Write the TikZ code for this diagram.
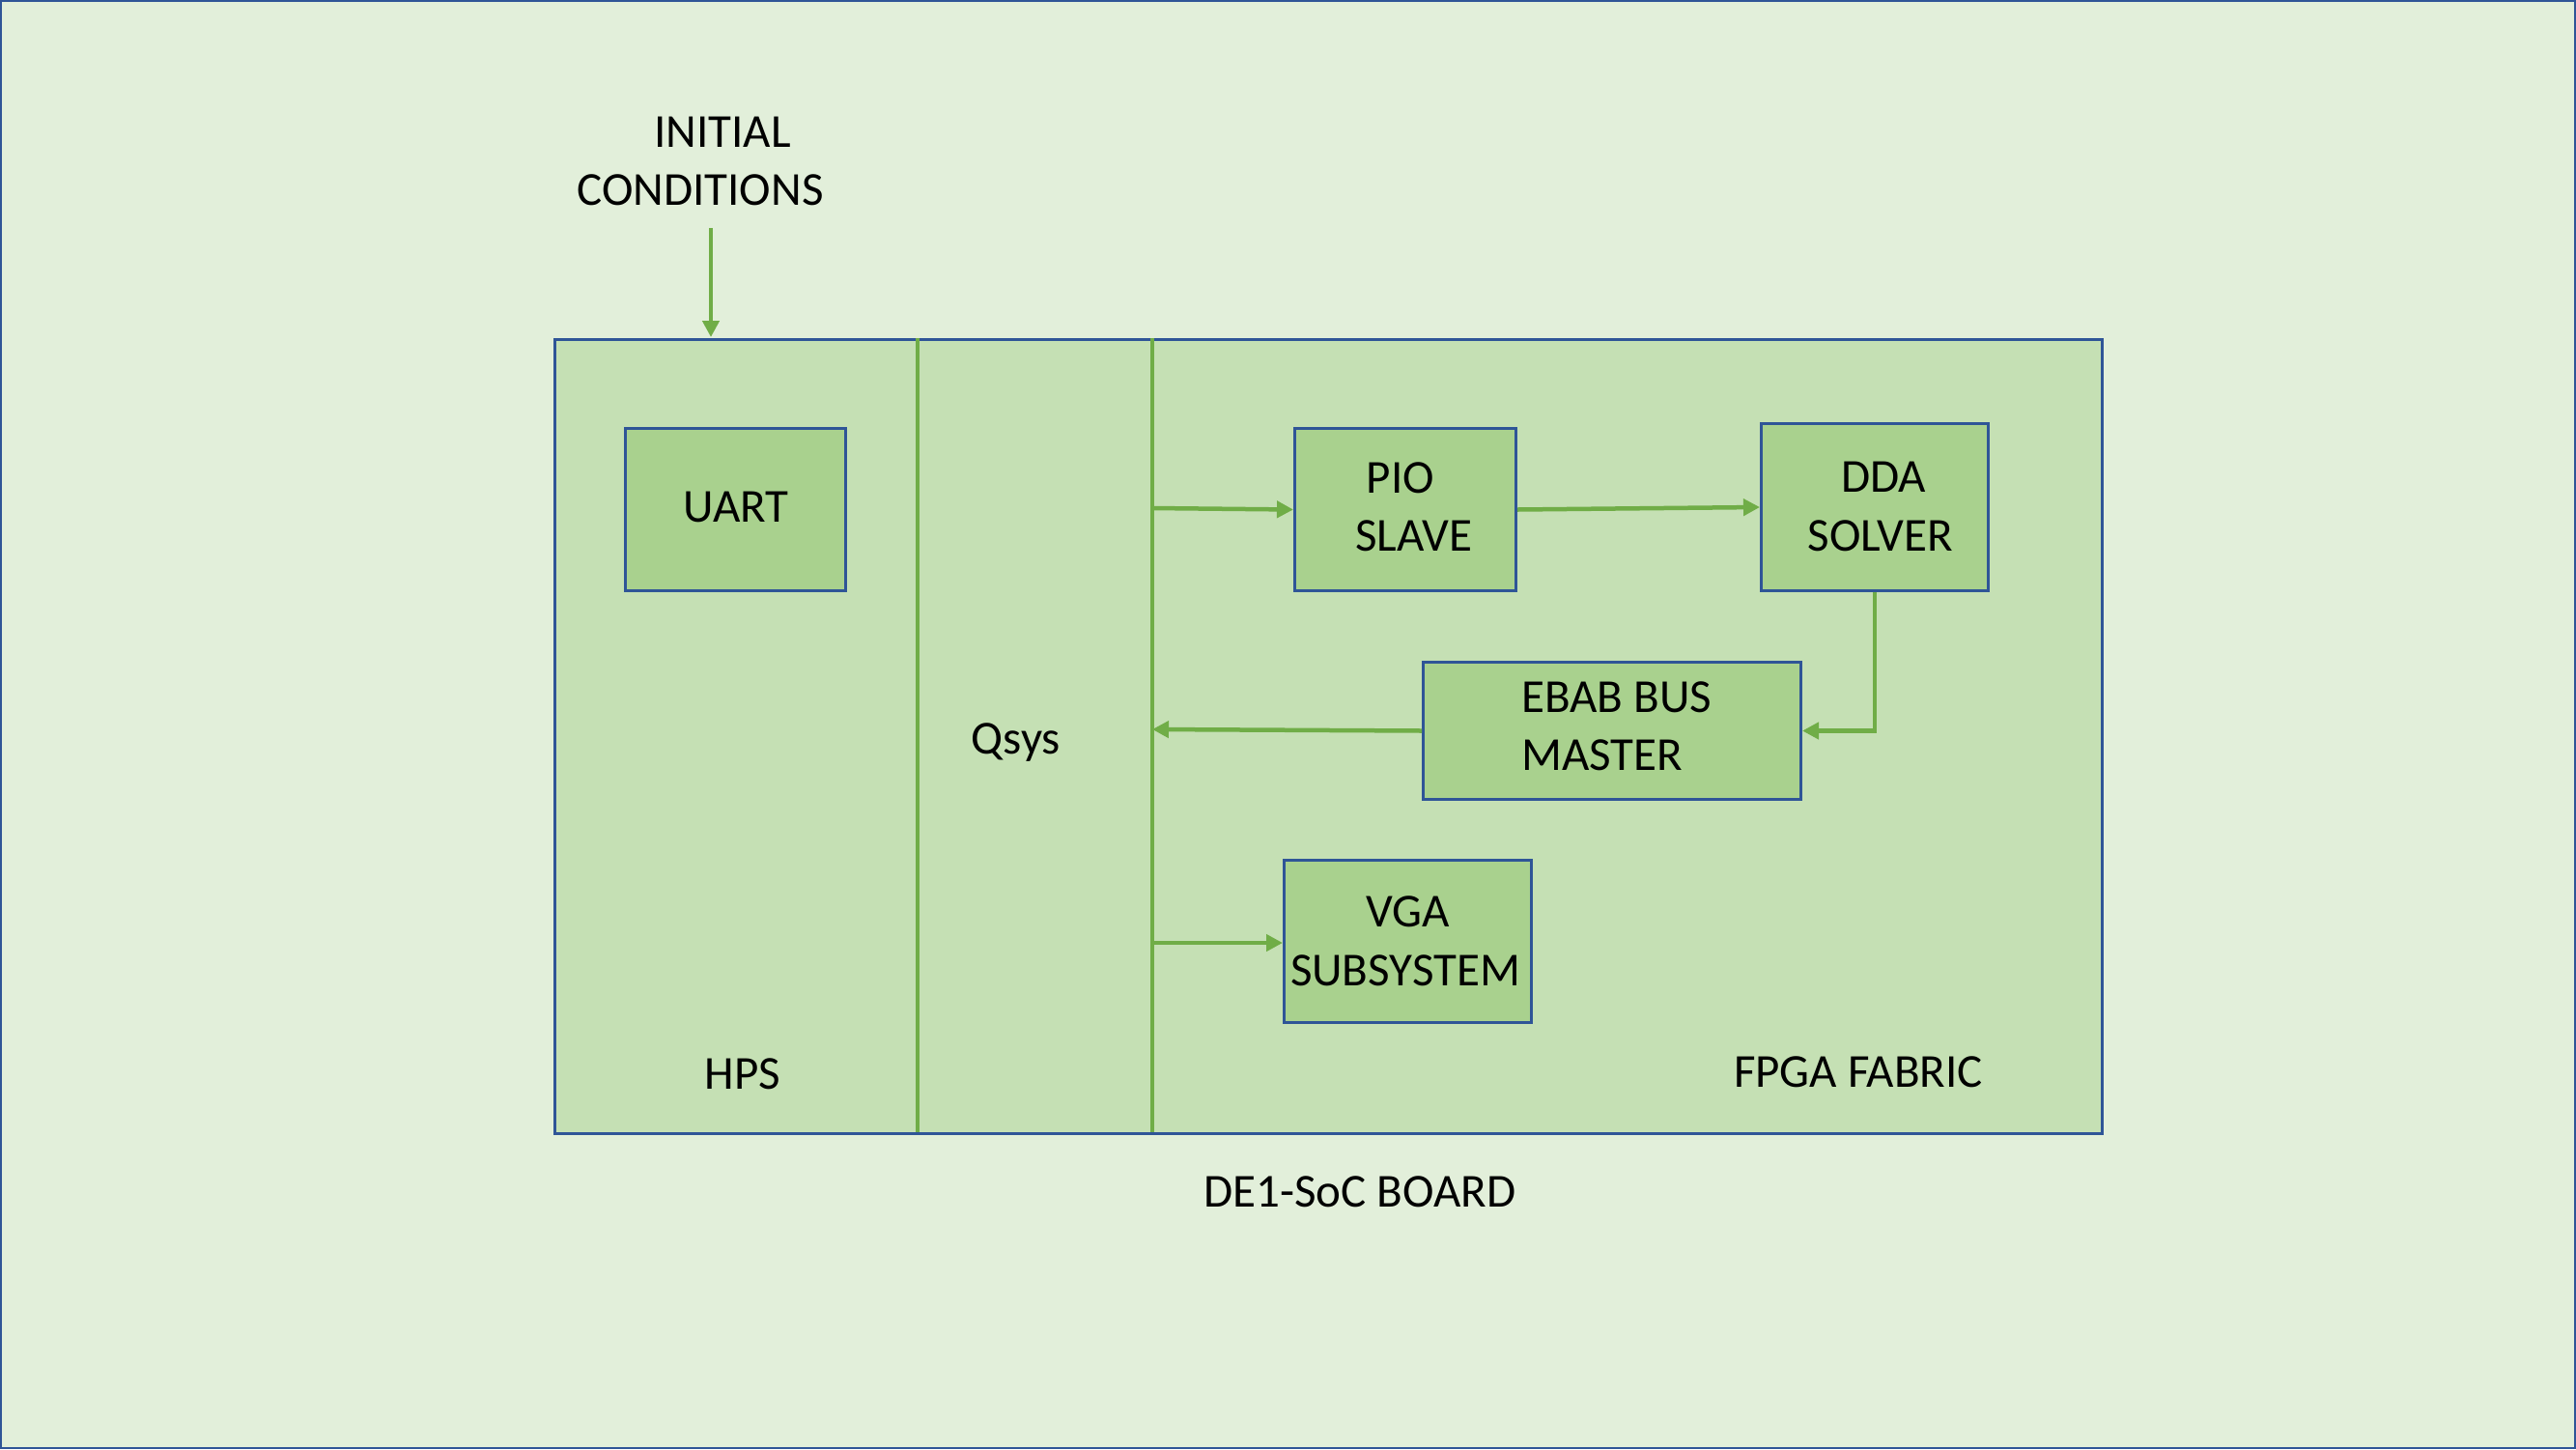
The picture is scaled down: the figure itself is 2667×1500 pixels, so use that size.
\documentclass[tikz,border=0pt]{standalone}
\usepackage{fontspec}
\setmainfont{Carlito}
\usetikzlibrary{arrows.meta}
\definecolor{bgc}{HTML}{E2EFDA}
\definecolor{mainc}{HTML}{C5E0B4}
\definecolor{boxc}{HTML}{A9D18E}
\definecolor{bluec}{HTML}{2F5597}
\definecolor{greenc}{HTML}{70AD47}
\tikzset{
  blk/.style={draw=bluec, line width=3pt, fill=boxc, inner sep=0pt, anchor=north west},
  lbl/.style={anchor=base, inner sep=0pt, font=\fontsize{49}{59}\selectfont, text=black},
  bus/.style={draw=greenc, line width=4.5pt},
  conn/.style={draw=greenc, line width=4.5pt, -{Triangle[length=17pt,width=17pt]}}
}
\begin{document}
\begin{tikzpicture}[x=1pt,y=-1pt]
\useasboundingbox (0,0) rectangle (2667,1500);
\fill[bgc] (0,0) rectangle (2667,1500);
\draw[bluec, line width=2.5pt] (1,1) rectangle (2666,1499);

% main board box
\node[draw=bluec, line width=3pt, fill=mainc, inner sep=0pt, anchor=north west,
      minimum width=1602pt, minimum height=822pt] (main) at (573,350) {};

% partition lines
\coordinate (p1t) at (950,350);
\coordinate (p1b) at (950,1172);
\coordinate (p2t) at (1193,350);
\coordinate (p2b) at (1193,1172);
\draw[bus] (p1t) -- (p1b);
\draw[bus] (p2t) -- (p2b);

% blocks
\node[blk, minimum width=228pt, minimum height=168pt] (uart) at (646,442) {};
\node[blk, minimum width=229pt, minimum height=168pt] (pio) at (1339,442) {};
\node[blk, minimum width=235pt, minimum height=173pt] (dda) at (1822,437) {};
\node[blk, minimum width=391pt, minimum height=142pt] (ebab) at (1472,684) {};
\node[blk, minimum width=256pt, minimum height=168pt] (vga) at (1328,889) {};

% labels
\node[lbl] (tinit) at (748,152) {INITIAL};
\node[lbl] (tcond) at (725,212) {CONDITIONS};
\node[lbl] (tuart) at (762,540) {UART};
\node[lbl] (tpio) at (1450,510) {PIO};
\node[lbl] (tslave) at (1464,570) {SLAVE};
\node[lbl] (tdda) at (1950,509) {DDA};
\node[lbl] (tsolver) at (1947,570) {SOLVER};
\node[lbl, anchor=base west] (tebab) at (1575,737) {EBAB BUS};
\node[lbl, anchor=base west] (tmaster) at (1575,797) {MASTER};
\node[lbl] (tvga) at (1458,959) {VGA};
\node[lbl] (tsub) at (1455,1020) {SUBSYSTEM};
\node[lbl] (tqsys) at (1052,780) {Qsys};
\node[lbl] (thps) at (769,1127) {HPS};
\node[lbl] (tfpga) at (1924,1125) {FPGA FABRIC};
\node[lbl] (tboard) at (1408,1249) {DE1-SoC BOARD};

% connectors
\coordinate (icstart) at (736,236);
\coordinate (icend) at (736,349);
\draw[conn] (icstart) -- (icend);

\coordinate (b1) at (1193,526);
\draw[conn] (b1) -- (pio.west);
\draw[conn] (pio.east) -- (dda.west);
\draw[conn] (dda.south) |- (ebab.east);
\coordinate (b2) at (1193,755);
\draw[conn] (ebab.west) -- (b2);
\coordinate (b3) at (1193,976);
\draw[conn] (b3) -- (vga.west |- b3);
\end{tikzpicture}
\end{document}
